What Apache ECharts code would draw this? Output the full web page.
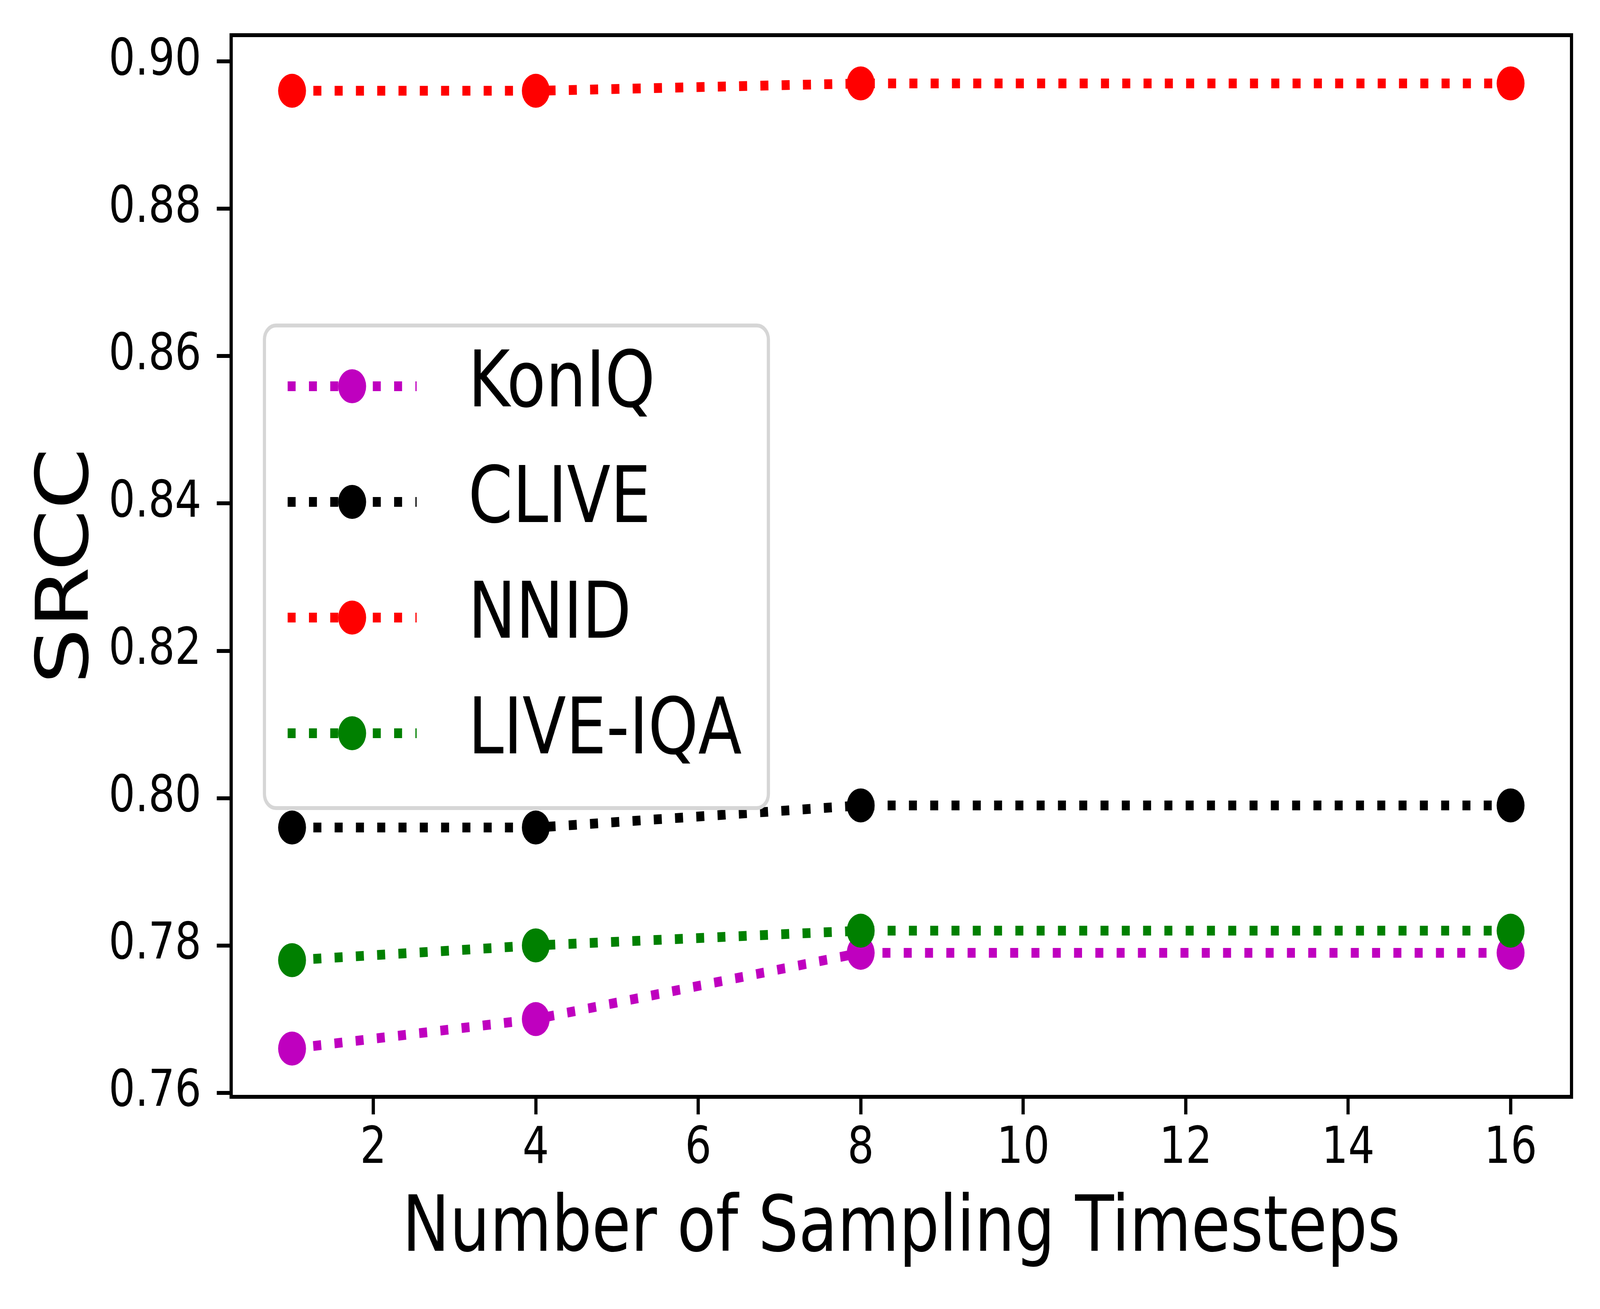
<!DOCTYPE html>
<html>
<head>
<meta charset="utf-8">
<script src="https://cdn.jsdelivr.net/npm/echarts@6/dist/echarts.min.js"></script>
<style>
html,body{margin:0;padding:0;background:#fff;overflow:hidden;}
#c{width:4998px;height:3350px;transform-origin:0 0;}
</style>
</head>
<body>
<div id="c"></div>
<script>
var timesteps = [1, 4, 8, 16];
var seriesNames = ['KonIQ', 'CLIVE', 'NNID', 'LIVE-IQA'];
var koniq = [0.766, 0.770, 0.779, 0.779];
var clive = [0.796, 0.796, 0.799, 0.799];
var nnid = [0.896, 0.896, 0.897, 0.897];
var liveiqa = [0.778, 0.780, 0.782, 0.782];
var xTicks = [2, 4, 6, 8, 10, 12, 14, 16];
var yTicks = [0.76, 0.78, 0.80, 0.82, 0.84, 0.86, 0.88, 0.90];
var colors = ['#bf00bf', '#000000', '#ff0000', '#008000'];

var FONT = 'DejaVu Sans';
var values = [koniq, clive, nnid, liveiqa];

// fit the 4998x3350 drawing into whatever viewport the browser really gives
var box = document.getElementById('c');
var fx = window.innerWidth / 4998, fy = window.innerHeight / 3350;
if (Math.abs(fx - 1) > 0.001 || Math.abs(fy - 1) > 0.001) {
  box.style.transform = 'scale(' + fx + ',' + fy + ')';
}

function pairs(arr) {
  return timesteps.map(function (t, i) { return [t, arr[i]]; });
}

var LW = 25, DASH = [25, 41.5];

var series = seriesNames.map(function (name, i) {
  return {
    name: name,
    type: 'line',
    data: pairs(values[i]),
    symbol: 'circle',
    symbolSize: 87,
    showSymbol: true,
    color: colors[i],
    itemStyle: { color: colors[i], borderWidth: 0 },
    lineStyle: { color: colors[i], width: LW, type: DASH, cap: 'butt' },
    animation: false,
    emphasis: { disabled: true }
  };
});

var chart = echarts.init(box, null, { width: 4998, height: 3350 });
chart.setOption({
  backgroundColor: '#ffffff',
  animation: false,
  grid: {
    left: 722, right: 89, top: 90, bottom: 543,
    show: true, borderColor: '#000', borderWidth: 10, backgroundColor: 'transparent'
  },
  xAxis: {
    type: 'value',
    min: 0.25, max: 16.75,
    name: 'Number of Sampling Timesteps',
    nameLocation: 'middle',
    nameGap: 244,
    nameTextStyle: { fontFamily: FONT, fontSize: 198, color: '#000' },
    axisLine: { show: false },
    splitLine: { show: false },
    axisTick: { show: true, length: 45, lineStyle: { color: '#000', width: 10 }, customValues: xTicks },
    axisLabel: { show: true, fontFamily: FONT, fontSize: 130, color: '#000', margin: 70, customValues: xTicks }
  },
  yAxis: {
    type: 'value',
    min: 0.75945, max: 0.90355,
    name: 'SRCC',
    nameLocation: 'middle',
    nameGap: 392,
    nameTextStyle: { fontFamily: FONT, fontSize: 226, color: '#000' },
    axisLine: { show: false },
    splitLine: { show: false },
    axisTick: { show: true, length: 45, lineStyle: { color: '#000', width: 10 }, customValues: yTicks },
    axisLabel: {
      show: true, fontFamily: FONT, fontSize: 130, color: '#000', margin: 93,
      customValues: yTicks,
      formatter: function (v) { return v.toFixed(2); }
    }
  },
  legend: {
    orient: 'vertical',
    left: 826, top: 833,
    data: seriesNames,
    itemWidth: 403,
    itemHeight: 109,
    itemGap: 97,
    padding: [56, 83, 92, 60],
    backgroundColor: '#ffffff',
    borderColor: '#d6d6d6',
    borderWidth: 10,
    borderRadius: 36,
    selectedMode: false,
    lineStyle: { width: LW, type: DASH, cap: 'butt' },
    textStyle: { fontFamily: FONT, fontSize: 199, color: '#000', lineHeight: 109, padding: [0, 0, 0, 156] }
  },
  series: series
});
</script>
</body>
</html>
